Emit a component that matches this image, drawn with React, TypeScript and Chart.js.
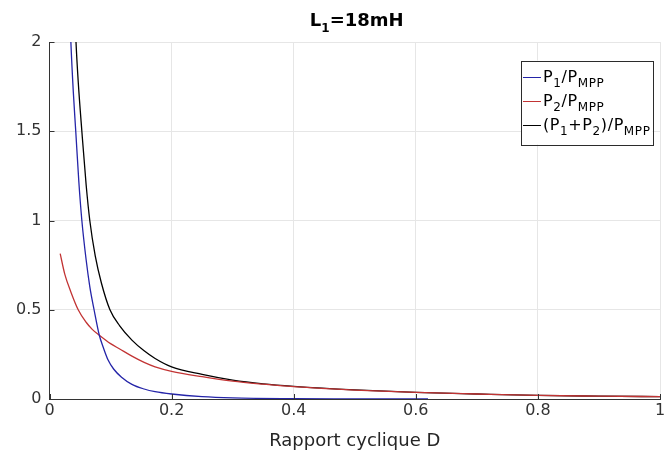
import React, { useEffect, useRef } from "react";
import { Chart, registerables } from "chart.js";

Chart.register(...registerables);

// P1 / PMPP (blue)
const dBlue = [0.03, 0.035, 0.039, 0.043, 0.048, 0.053, 0.06, 0.066, 0.073, 0.0816, 0.088, 0.096, 0.105, 0.118, 0.135, 0.155, 0.173, 0.2, 0.25, 0.3, 0.4, 0.5, 0.62];
const p1 = [2.5, 2.0, 1.72, 1.5, 1.22, 1.0, 0.78, 0.63, 0.5, 0.357, 0.29, 0.218, 0.168, 0.122, 0.082, 0.056, 0.041, 0.028, 0.013, 0.006, 0.002, 0.001, 0.0];

// P2 / PMPP (red)
const dRed = [0.0175, 0.025, 0.035, 0.047, 0.06, 0.07, 0.0816, 0.1, 0.115, 0.135, 0.155, 0.173, 0.2, 0.25, 0.3, 0.35, 0.4, 0.5, 0.6, 0.7, 0.8, 0.9, 1.0];
const p2 = [0.814, 0.7, 0.6, 0.5, 0.43, 0.39, 0.357, 0.31, 0.28, 0.24, 0.205, 0.18, 0.155, 0.125, 0.1, 0.083, 0.069, 0.05, 0.037, 0.028, 0.02, 0.016, 0.013];

// (P1 + P2) / PMPP (black)
const dBlack = [0.04, 0.0434, 0.047, 0.053, 0.06, 0.066, 0.075, 0.085, 0.099, 0.115, 0.135, 0.155, 0.173, 0.2, 0.25, 0.3, 0.35, 0.4, 0.5, 0.6, 0.7, 0.8, 0.9, 1.0];
const pSum = [2.3, 2.0, 1.78, 1.5, 1.2, 1.0, 0.8, 0.65, 0.5, 0.41, 0.33, 0.27, 0.227, 0.18, 0.138, 0.106, 0.085, 0.071, 0.051, 0.037, 0.028, 0.02, 0.016, 0.013];

const seriesColors = ["#2424a8", "#c23434", "#000000"];
const FONT = "'DejaVu Sans', sans-serif";
const AXIS = "#333333";

// legend entries: [main, sub, main, sub, ...]
const legendParts: string[][] = [
  ["P", "1", "/P", "MPP"],
  ["P", "2", "/P", "MPP"],
  ["(P", "1", "+P", "2", ")/P", "MPP"],
];

const toXY = (xs: number[], ys: number[]) => xs.map((x, i) => ({ x, y: ys[i] }));
const fmt = (v: any) => String(Math.round(Number(v) * 100) / 100);

function drawParts(ctx: CanvasRenderingContext2D, parts: string[], x: number, y: number, main: string, sub: string, subDy: number, draw: boolean) {
  let cx = x;
  parts.forEach((t, i) => {
    const isSub = i % 2 === 1;
    ctx.font = isSub ? sub : main;
    if (draw) ctx.fillText(t, cx, isSub ? y + subDy : y);
    cx += ctx.measureText(t).width;
  });
  return cx - x;
}

const decorPlugin = {
  id: "decor",
  afterDraw(chart: any) {
    const ctx: CanvasRenderingContext2D = chart.ctx;
    const area = chart.chartArea;
    const xs = chart.scales.x;
    const ys = chart.scales.y;
    ctx.save();
    // inward tick marks
    ctx.strokeStyle = AXIS;
    ctx.lineWidth = 1;
    ctx.beginPath();
    xs.ticks.forEach((t: any) => {
      const px = Math.round(xs.getPixelForValue(t.value)) + 0.5;
      ctx.moveTo(px, area.bottom);
      ctx.lineTo(px, area.bottom - 5);
    });
    ys.ticks.forEach((t: any) => {
      const py = Math.round(ys.getPixelForValue(t.value)) + 0.5;
      ctx.moveTo(area.left, py);
      ctx.lineTo(area.left + 5, py);
    });
    ctx.stroke();

    // title L1=18mH
    ctx.fillStyle = "#000";
    ctx.textBaseline = "alphabetic";
    const tMain = `bold 18px ${FONT}`;
    const tSub = `bold 12px ${FONT}`;
    const titleParts = ["L", "1", "=18mH", ""];
    const tw = drawParts(ctx, titleParts, 0, 0, tMain, tSub, 6, false);
    const cx = (area.left + area.right) / 2;
    drawParts(ctx, titleParts, cx - tw / 2 + 2, 26, tMain, tSub, 6, true);

    // legend
    (ctx as any).letterSpacing = "0.6px";
    const lMain = `16px ${FONT}`;
    const lSub = `12px ${FONT}`;
    let maxW = 0;
    legendParts.forEach((p) => {
      maxW = Math.max(maxW, drawParts(ctx, p, 0, 0, lMain, lSub, 5, false));
    });
    const lineLen = 18;
    const boxW = 2 + lineLen + 2 + maxW + 2;
    const boxR = area.right - 7.5;
    const boxL = boxR - boxW;
    const boxT = area.top + 18.5;
    const rowH = 24;
    const boxH = 84;
    ctx.fillStyle = "#ffffff";
    ctx.fillRect(boxL, boxT, boxW, boxH);
    ctx.strokeStyle = "#2b2b2b";
    ctx.strokeRect(Math.round(boxL) + 0.5, Math.round(boxT) + 0.5, Math.round(boxW), boxH);
    legendParts.forEach((p, i) => {
      const ly = boxT + 16 + i * rowH;
      ctx.strokeStyle = seriesColors[i];
      ctx.beginPath();
      ctx.moveTo(boxL + 2, Math.round(ly) + 0.5);
      ctx.lineTo(boxL + 2 + lineLen, Math.round(ly) + 0.5);
      ctx.stroke();
      ctx.fillStyle = "#000";
      drawParts(ctx, p, boxL + 2 + lineLen + 2, ly + 5, lMain, lSub, 5, true);
    });
    ctx.restore();
  },
};

export default function App() {
  const ref = useRef<HTMLCanvasElement | null>(null);
  useEffect(() => {
    if (!ref.current) return;
    const chart = new Chart(ref.current, {
      type: "line",
      data: {
        datasets: [
          { label: "P1/PMPP", data: toXY(dBlue, p1), borderColor: seriesColors[0] },
          { label: "P2/PMPP", data: toXY(dRed, p2), borderColor: seriesColors[1] },
          { label: "(P1+P2)/PMPP", data: toXY(dBlack, pSum), borderColor: seriesColors[2] },
        ],
      },
      options: {
        responsive: false,
        animation: false,
        parsing: false as any,
        layout: { padding: { top: 42, right: 8, left: 0, bottom: 0 } },
        elements: {
          point: { radius: 0 },
          line: { borderWidth: 1.3, cubicInterpolationMode: "monotone", fill: false },
        },
        plugins: { legend: { display: false }, title: { display: false }, tooltip: { enabled: false } },
        scales: {
          x: {
            type: "linear",
            min: 0,
            max: 1,
            afterFit: (s: any) => {
              s.height = 58;
            },
            ticks: { stepSize: 0.2, color: AXIS, font: { family: FONT, size: 16 }, padding: 2, maxRotation: 0, callback: fmt },
            grid: { color: "#e6e6e6", drawTicks: false },
            border: { display: true, color: AXIS, width: 1 },
            title: {
              display: true,
              text: "Rapport cyclique D",
              color: "#262626",
              font: { family: FONT, size: 18 },
              padding: { top: 0, bottom: 5 },
            },
          },
          y: {
            type: "linear",
            min: 0,
            max: 2,
            afterFit: (s: any) => {
              s.width = 49.5;
            },
            ticks: { stepSize: 0.5, color: AXIS, font: { family: FONT, size: 16 }, padding: 8, callback: fmt },
            grid: { color: "#e6e6e6", drawTicks: false },
            border: { display: true, color: AXIS, width: 1 },
          },
        },
      },
      plugins: [decorPlugin],
    });
    return () => chart.destroy();
  }, []);
  return (
    <div style={{ position: "absolute", left: 0, top: 0, width: 668, height: 457, background: "#fff" }}>
      <canvas ref={ref} width={668} height={457} />
    </div>
  );
}
